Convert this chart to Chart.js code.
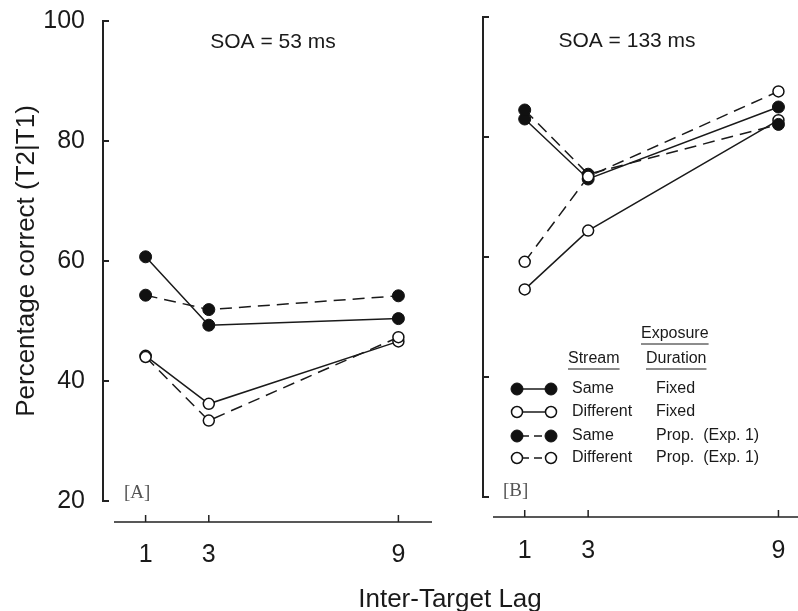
<!DOCTYPE html>
<html>
<head>
<meta charset="utf-8">
<script src="https://cdn.jsdelivr.net/npm/chart.js@4.4.0/dist/chart.umd.min.js"></script>
<style>
  body { margin: 0; background: #fff; }
  #wrap { position: relative; width: 798px; height: 611px; overflow: hidden; }
  canvas { position: absolute; top: 0; }
  #chartA { left: 0; }
  #chartB { left: 470px; }
  #xtitle {
    position: absolute; left: 300px; width: 300px; top: 583px;
    text-align: center; font: 26px "Liberation Sans", Arial, sans-serif;
    line-height: 30px; color: #1a1a1a;
  }
</style>
</head>
<body>
<div id="wrap">
  <canvas id="chartA" width="470" height="611"></canvas>
  <canvas id="chartB" width="328" height="611"></canvas>
  <div id="xtitle">Inter-Target Lag</div>
</div>
<script>
// lags on the x axis and y tick values
const lags = [1, 3, 9];
const yTicks = [20, 40, 60, 80, 100];

// panel A: SOA = 53 ms
const sameFixedA = [60.7, 49.3, 50.4];
const diffFixedA = [44.2, 36.2, 46.6];
const samePropA = [54.3, 51.9, 54.2];
const diffPropA = [44.0, 33.4, 47.3];

// panel B: SOA = 133 ms
const sameFixedB = [83.0, 73.0, 85.0];
const diffFixedB = [54.6, 64.4, 82.8];
const samePropB = [84.5, 73.8, 82.1];
const diffPropB = [59.2, 73.4, 87.6];

// legend text
const legendStream = ['Same', 'Different', 'Same', 'Different'];
const legendDuration = ['Fixed', 'Fixed', 'Prop.  (Exp. 1)', 'Prop.  (Exp. 1)'];

const ink = '#1a1a1a';
const sans = '"Liberation Sans", Arial, sans-serif';
const clear = 'rgba(0,0,0,0)';

function series(label, values, filled, dashed, order) {
  return {
    label: label,
    data: lags.map((x, i) => ({ x: x, y: values[i] })),
    borderColor: ink,
    borderWidth: 1.5,
    borderDash: dashed ? [12, 7] : [],
    pointRadius: filled ? 6 : 5.5,
    pointBorderWidth: filled ? 1 : 1.5,
    pointBackgroundColor: filled ? '#111' : '#fff',
    pointBorderColor: '#111',
    pointHoverRadius: 6,
    tension: 0,
    fill: false,
    order: order
  };
}

function drawMarker(ctx, x, y, filled) {
  ctx.beginPath();
  ctx.setLineDash([]);
  ctx.arc(x, y, filled ? 6 : 5.5, 0, Math.PI * 2);
  ctx.fillStyle = filled ? '#111' : '#fff';
  ctx.fill();
  ctx.lineWidth = filled ? 1 : 1.5;
  ctx.strokeStyle = '#111';
  ctx.stroke();
}

function underlined(ctx, text, x, y) {
  ctx.fillText(text, x, y);
  const w = ctx.measureText(text).width;
  ctx.beginPath();
  ctx.setLineDash([]);
  ctx.lineWidth = 1;
  ctx.moveTo(x, y + 10);
  ctx.lineTo(x + w, y + 10);
  ctx.stroke();
}

// axis brackets, tick marks, panel texts and legend
const panelPlugin = {
  id: 'panel',
  beforeDatasetsDraw(chart, args, opts) {
    const { ctx, chartArea, scales: { x, y } } = chart;
    const ax = chartArea.left - opts.yGap;
    const ay = chartArea.bottom + opts.xGap;
    ctx.save();
    ctx.strokeStyle = '#222';
    ctx.setLineDash([]);

    ctx.lineWidth = 2;
    ctx.beginPath();
    ctx.moveTo(ax, y.getPixelForValue(100));
    ctx.lineTo(ax, y.getPixelForValue(20));
    yTicks.forEach(v => {
      const py = y.getPixelForValue(v);
      ctx.moveTo(ax - 1, py);
      ctx.lineTo(ax + 6, py);
    });
    ctx.stroke();

    ctx.lineWidth = 1.5;
    ctx.beginPath();
    ctx.moveTo(chartArea.left, ay);
    ctx.lineTo(chartArea.right + opts.xLineExtra, ay);
    lags.forEach(v => {
      const px = x.getPixelForValue(v);
      ctx.moveTo(px, ay);
      ctx.lineTo(px, ay - 7);
    });
    ctx.stroke();

    ctx.fillStyle = ink;
    ctx.textBaseline = 'middle';
    ctx.textAlign = 'center';
    ctx.font = '21px ' + sans;
    ctx.fillText(opts.soa, opts.soaX, opts.soaY);

    ctx.textAlign = 'left';
    ctx.fillStyle = '#555';
    ctx.font = '19px "Liberation Serif", "Times New Roman", serif';
    ctx.fillText(opts.letter, opts.letterX, opts.letterY);

    if (opts.legend) {
      ctx.fillStyle = ink;
      ctx.strokeStyle = ink;
      ctx.font = '16px ' + sans;
      underlined(ctx, 'Exposure', 171, 334);
      underlined(ctx, 'Stream', 98, 359);
      underlined(ctx, 'Duration', 176, 359);
      const rows = [389, 412, 436, 458];
      const sets = chart.data.datasets;
      opts.legendOrder.forEach((di, i) => {
        const ds = sets[di];
        const filled = ds.pointBackgroundColor !== '#fff';
        const ry = rows[i];
        ctx.beginPath();
        ctx.strokeStyle = ink;
        ctx.lineWidth = 1.5;
        ctx.setLineDash(ds.borderDash.length ? [8, 5] : []);
        ctx.lineDashOffset = ds.borderDash.length ? -4 : 0;
        ctx.moveTo(47, ry);
        ctx.lineTo(81, ry);
        ctx.stroke();
        ctx.lineDashOffset = 0;
        drawMarker(ctx, 47, ry, filled);
        drawMarker(ctx, 81, ry, filled);
        ctx.fillStyle = ink;
        ctx.fillText(legendStream[i], 102, ry);
        ctx.fillText(legendDuration[i], 186, ry);
      });
    }
    ctx.restore();
  }
};

function makePanel(id, sets, p) {
  return new Chart(document.getElementById(id), {
    type: 'line',
    data: { datasets: sets },
    options: {
      responsive: false,
      animation: false,
      devicePixelRatio: 1,
      layout: { padding: { top: p.top, right: p.right, left: 0, bottom: 0 } },
      plugins: {
        legend: { display: false },
        tooltip: { enabled: false },
        panel: p.panel
      },
      scales: {
        x: {
          type: 'linear',
          min: 0,
          max: p.xMax,
          afterBuildTicks: s => { s.ticks = lags.map(v => ({ value: v })); },
          afterFit: s => { s.height = p.xHeight; },
          grid: { display: true, color: clear, drawOnChartArea: false, drawTicks: true, tickLength: 36 },
          border: { display: false },
          ticks: { font: { size: 25, family: sans }, color: ink, padding: 3 }
        },
        y: {
          min: 20,
          max: 100,
          afterBuildTicks: s => { s.ticks = yTicks.map(v => ({ value: v })); },
          afterFit: s => { s.width = p.yWidth; },
          grid: { display: true, color: clear, drawOnChartArea: false, drawTicks: true, tickLength: 26 },
          border: { display: false },
          ticks: { display: p.yLabels, font: { size: 25, family: sans }, color: ink, padding: 3 },
          title: {
            display: p.yLabels,
            text: 'Percentage correct (T2|T1)',
            font: { size: 26, family: sans },
            color: ink,
            padding: { top: 11, bottom: 0 }
          }
        }
      }
    },
    plugins: [panelPlugin]
  });
}

makePanel('chartA', [
  series('Same / Fixed', sameFixedA, true, false, 3),
  series('Different / Fixed', diffFixedA, false, false, 4),
  series('Same / Prop.', samePropA, true, true, 2),
  series('Different / Prop.', diffPropA, false, true, 1)
], {
  top: 21, right: 40, xMax: 10, xHeight: 110, yWidth: 114, yLabels: true,
  panel: { yGap: 11, xGap: 21, xLineExtra: 2, soa: 'SOA = 53 ms', soaX: 273, soaY: 42,
           letter: '[A]', letterX: 124, letterY: 493, legend: false }
});

makePanel('chartB', [
  series('Same / Fixed', sameFixedB, true, false, 3),
  series('Different / Fixed', diffFixedB, false, false, 4),
  series('Same / Prop.', samePropB, true, true, 2),
  series('Different / Prop.', diffPropB, false, true, 1)
], {
  top: 17, right: 0, xMax: 9.38, xHeight: 114, yWidth: 23, yLabels: false,
  panel: { yGap: 10, xGap: 20, xLineExtra: 10, soa: 'SOA = 133 ms', soaX: 157, soaY: 41,
           letter: '[B]', letterX: 33, letterY: 491, legend: true,
           legendOrder: [0, 1, 2, 3] }
});
</script>
</body>
</html>
